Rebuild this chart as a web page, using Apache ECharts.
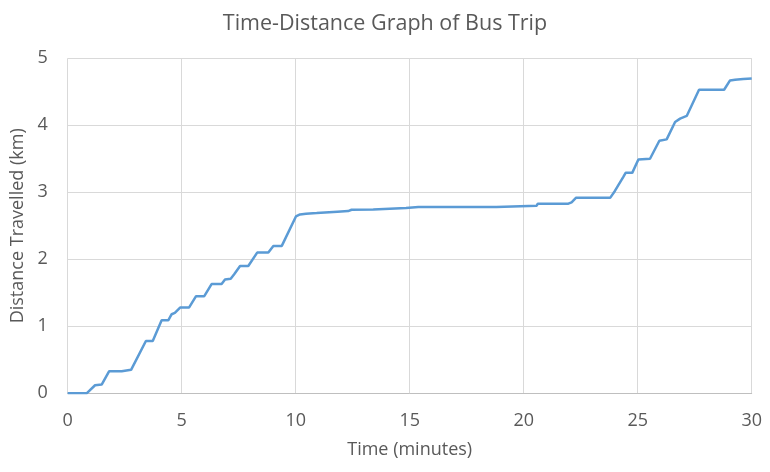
<!DOCTYPE html>
<html><head><meta charset="utf-8">
<script src="https://cdn.jsdelivr.net/npm/echarts@6/dist/echarts.min.js"></script>
<style>html,body{margin:0;padding:0;background:#fff}#c{width:770px;height:472px}</style>
</head><body><div id="c"></div>
<script>
var times = [0, 0.83, 1.2, 1.49, 1.82, 2.37, 2.45, 2.78, 3.43, 3.73, 4.12, 4.41, 4.56, 4.7, 4.93, 5.32, 5.63, 5.99, 6.31, 6.75, 6.9, 7.15, 7.31, 7.56, 7.92, 8.31, 8.8, 9.02, 9.39, 10.01, 10.19, 10.45, 10.92, 11.83, 12.3, 12.45, 13.4, 14.84, 15.38, 18.8, 18.85, 20.57, 20.62, 21.96, 22.1, 22.3, 23.8, 24.0, 24.37, 24.47, 24.76, 25.03, 25.54, 25.95, 26.27, 26.64, 26.86, 27.15, 27.69, 28.79, 29.05, 29.27, 29.63, 30];
var distances = [0, 0, 0.12, 0.13, 0.33, 0.33, 0.35, 0.35, 0.78, 0.78, 1.09, 1.09, 1.18, 1.2, 1.28, 1.28, 1.45, 1.45, 1.63, 1.63, 1.70, 1.71, 1.78, 1.90, 1.90, 2.10, 2.10, 2.20, 2.20, 2.64, 2.67, 2.68, 2.69, 2.71, 2.72, 2.74, 2.745, 2.765, 2.78, 2.78, 2.80, 2.80, 2.83, 2.83, 2.85, 2.92, 2.92, 3.02, 3.23, 3.29, 3.29, 3.49, 3.50, 3.77, 3.79, 4.05, 4.10, 4.14, 4.53, 4.53, 4.67, 4.68, 4.69, 4.70];
var xTicks = [0, 5, 10, 15, 20, 25, 30];
var yTicks = [0, 1, 2, 3, 4, 5];

var pts = times.map(function(t, i){ return [t, distances[i]]; });
var FONT = '"Open Sans", sans-serif';
var TXT = '#595959';
var chart = echarts.init(document.getElementById('c'));
chart.setOption({
  animation: false,
  backgroundColor: '#fff',
  title: {
    text: 'Time-Distance Graph of Bus Trip',
    left: 'center', top: 8,
    textStyle: { fontFamily: FONT, fontSize: 21.5, fontWeight: 'normal', color: TXT }
  },
  grid: { left: 67.7, right: 18.3, top: 58.3, bottom: 78.7 },
  xAxis: {
    type: 'value', min: xTicks[0], max: xTicks[xTicks.length-1], interval: 5,
    name: 'Time (minutes)', nameLocation: 'middle', nameGap: 48,
    nameTextStyle: { fontFamily: FONT, fontSize: 18, color: TXT },
    axisLine: { show: true, lineStyle: { color: '#bfbfbf', width: 1 } },
    axisTick: { show: false },
    axisLabel: { fontFamily: FONT, fontSize: 18, color: TXT, margin: 19 },
    splitLine: { show: true, lineStyle: { color: '#d9d9d9', width: 1 } }
  },
  yAxis: {
    type: 'value', min: yTicks[0], max: yTicks[yTicks.length-1], interval: 1,
    name: 'Distance Travelled (km)', nameLocation: 'middle', nameGap: 35, nameRotate: 90,
    nameTextStyle: { fontFamily: FONT, fontSize: 18, color: TXT },
    axisLine: { show: false },
    axisTick: { show: false },
    axisLabel: { fontFamily: FONT, fontSize: 18, color: TXT, margin: 20 },
    splitLine: { show: true, lineStyle: { color: '#d9d9d9', width: 1 } }
  },
  series: [{
    type: 'line', data: pts, showSymbol: false, smooth: false,
    lineStyle: { color: '#5B9BD5', width: 2.5 },
    itemStyle: { color: '#5B9BD5' }
  }]
});
</script></body></html>
